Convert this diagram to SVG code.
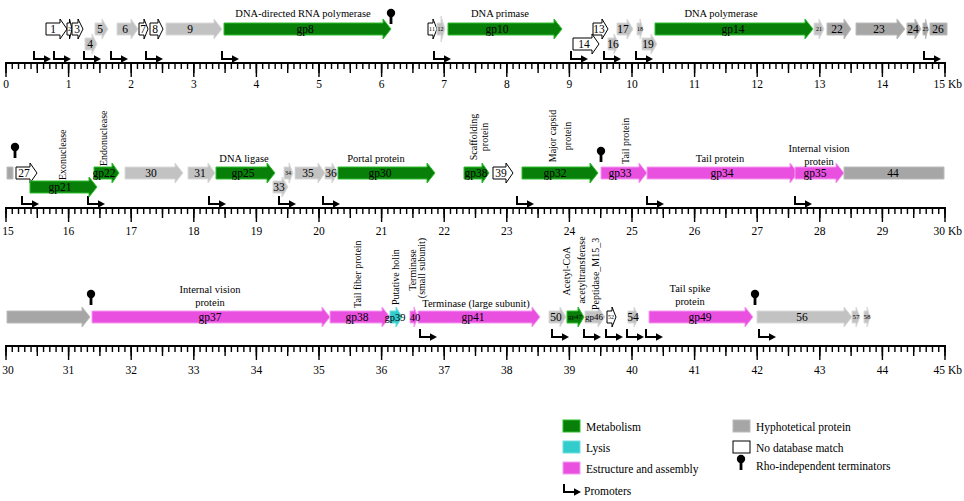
<svg xmlns="http://www.w3.org/2000/svg" xmlns:xlink="http://www.w3.org/1999/xlink" width="964" height="501" viewBox="0 0 964 501">
<style>
text{font-family:"Liberation Serif","Times New Roman",serif;fill:#000}
.lb{font-size:10.5px;text-anchor:middle}
.gl{font-size:11.5px;text-anchor:middle;dominant-baseline:central}
.sm{font-size:6px;text-anchor:middle;dominant-baseline:central}
.ax{font-size:11.5px;text-anchor:middle}
.kb{font-size:11.5px;text-anchor:end}
.rot{font-size:10px}
.lg{font-size:11.5px}
.g{fill:#087f08;stroke:#2fbf2f;stroke-width:1}
.m{fill:#e950e0;stroke:#f59cf0;stroke-width:1}
.c{fill:#33cccc;stroke:#70e0e0;stroke-width:1}
.h{fill:#c2c2c2;stroke:#dadada;stroke-width:1}
.d{fill:#a6a6a6;stroke:#bcbcbc;stroke-width:1}
.w{fill:#fff;stroke:#000;stroke-width:1}
.axis{stroke:#000;stroke-width:2}
.t1{stroke:#000;stroke-width:6;stroke-dasharray:1.4 4.86;fill:none}
.t5{stroke:#000;stroke-width:10;stroke-dasharray:1.4 29.9;fill:none}
.t10{stroke:#000;stroke-width:14;stroke-dasharray:1.4 61.2;fill:none}
</style>
<defs>
<g id="prom"><path d="M0,0V8H11" fill="none" stroke="#000" stroke-width="2"/><path d="M10,4.2L17,8L10,11.8Z" fill="#000"/></g>
<g id="term"><circle cx="0" cy="0" r="4.2" fill="#000"/><rect x="-1.4" y="0" width="2.8" height="11" fill="#000"/></g>
</defs>

<g id="axes">
<line class="axis" x1="5" y1="63" x2="946" y2="63"/>
<line class="t1" x1="5.3" y1="66" x2="945.7" y2="66"/>
<line class="t5" x1="5.3" y1="68" x2="945.7" y2="68"/>
<line class="t10" x1="5.3" y1="70" x2="945.7" y2="70"/>
<line class="axis" x1="5" y1="208" x2="946" y2="208"/>
<line class="t1" x1="5.3" y1="211" x2="945.7" y2="211"/>
<line class="t5" x1="5.3" y1="213" x2="945.7" y2="213"/>
<line class="t10" x1="5.3" y1="215" x2="945.7" y2="215"/>
<line class="axis" x1="5" y1="346" x2="946" y2="346"/>
<line class="t1" x1="5.3" y1="349" x2="945.7" y2="349"/>
<line class="t5" x1="5.3" y1="351" x2="945.7" y2="351"/>
<line class="t10" x1="5.3" y1="353" x2="945.7" y2="353"/>
<g class="ax">
<text x="6" y="88">0</text><text x="68.6" y="88">1</text><text x="131.2" y="88">2</text><text x="193.8" y="88">3</text><text x="256.4" y="88">4</text><text x="319" y="88">5</text><text x="381.6" y="88">6</text><text x="444.2" y="88">7</text><text x="506.8" y="88">8</text><text x="569.4" y="88">9</text><text x="632" y="88">10</text><text x="694.6" y="88">11</text><text x="757.2" y="88">12</text><text x="819.8" y="88">13</text><text x="882.4" y="88">14</text>
<text x="8" y="235">15</text><text x="68.6" y="235">16</text><text x="131.2" y="235">17</text><text x="193.8" y="235">18</text><text x="256.4" y="235">19</text><text x="319" y="235">20</text><text x="381.6" y="235">21</text><text x="444.2" y="235">22</text><text x="506.8" y="235">23</text><text x="569.4" y="235">24</text><text x="632" y="235">25</text><text x="694.6" y="235">26</text><text x="757.2" y="235">27</text><text x="819.8" y="235">28</text><text x="882.4" y="235">29</text>
<text x="8" y="374">30</text><text x="68.6" y="374">31</text><text x="131.2" y="374">32</text><text x="193.8" y="374">33</text><text x="256.4" y="374">34</text><text x="319" y="374">35</text><text x="381.6" y="374">36</text><text x="444.2" y="374">37</text><text x="506.8" y="374">38</text><text x="569.4" y="374">39</text><text x="632" y="374">40</text><text x="694.6" y="374">41</text><text x="757.2" y="374">42</text><text x="819.8" y="374">43</text><text x="882.4" y="374">44</text>
</g>
<text class="kb" x="962" y="88">15 Kb</text>
<text class="kb" x="962" y="235">30 Kb</text>
<text class="kb" x="962" y="374">45 Kb</text>
</g>

<g id="connectors"></g>

<g id="promoters">
<use xlink:href="#prom" x="34" y="51"/><use xlink:href="#prom" x="54" y="51"/><use xlink:href="#prom" x="84" y="51"/><use xlink:href="#prom" x="111" y="51"/><use xlink:href="#prom" x="146" y="51"/><use xlink:href="#prom" x="222" y="51"/><use xlink:href="#prom" x="434" y="51"/><use xlink:href="#prom" x="571" y="51"/><use xlink:href="#prom" x="604" y="51"/><use xlink:href="#prom" x="636" y="51"/><use xlink:href="#prom" x="924" y="51"/>
<use xlink:href="#prom" x="22" y="196"/><use xlink:href="#prom" x="88" y="196"/><use xlink:href="#prom" x="209" y="196"/><use xlink:href="#prom" x="279" y="196"/><use xlink:href="#prom" x="323" y="196"/><use xlink:href="#prom" x="517" y="196"/><use xlink:href="#prom" x="647" y="196"/><use xlink:href="#prom" x="795" y="196"/>
<use xlink:href="#prom" x="420" y="329"/><use xlink:href="#prom" x="552" y="329"/><use xlink:href="#prom" x="584" y="329"/><use xlink:href="#prom" x="606" y="329"/><use xlink:href="#prom" x="627" y="329"/><use xlink:href="#prom" x="646" y="329"/><use xlink:href="#prom" x="759" y="329"/>
</g>
<g id="terminators">
<use xlink:href="#term" x="391" y="13"/>
<use xlink:href="#term" x="15" y="147"/>
<use xlink:href="#term" x="601" y="151"/>
<use xlink:href="#term" x="91" y="294"/>
<use xlink:href="#term" x="755" y="294"/>
</g>

<!-- Row 1 -->
<g id="g1"><path class="w" d="M46,23H60V19L67,29L60,39V35H46Z"/><text class="gl" x="53" y="29">1</text></g>
<g id="g2"><path class="w" d="M67,23H69.5V19L72,29L69.5,39V35H67Z"/><text class="sm" x="69.5" y="29">2</text></g>
<g id="g3"><path class="w" d="M72,23H78V19L83,29L78,39V35H72Z"/><text class="gl" x="77" y="29">3</text></g>
<g id="g4"><path class="h" d="M85,38H92V34L97,44L92,54V50H85Z"/><text class="gl" x="90" y="44">4</text></g>
<g id="g5"><path class="h" d="M95,23H102V19L108,29L102,39V35H95Z"/><text class="gl" x="100" y="29">5</text></g>
<g id="g6"><path class="h" d="M117,23H131V19L138,29L131,39V35H117Z"/><text class="gl" x="125" y="29">6</text></g>
<g id="g7"><path class="w" d="M139,23H144V19L148,29L144,39V35H139Z"/><text class="gl" x="143" y="29">7</text></g>
<g id="g8n"><path class="w" d="M150,23H158V19L163,29L158,39V35H150Z"/><text class="gl" x="155" y="29">8</text></g>
<g id="g9"><path class="h" d="M166,23H214V19L222,29L214,39V35H166Z"/><text class="gl" x="190" y="29">9</text></g>
<g id="gp8"><path class="g" d="M224,23H383V19L391,29L383,39V35H224Z"/><text class="gl" x="305" y="29">gp8</text><text class="lb" x="303" y="17">DNA-directed RNA polymerase</text></g>
<g id="g11"><path class="w" d="M428,23H433V19L437,29L433,39V35H428Z"/><text class="sm" x="432" y="29">11</text></g>
<g id="g12"><path class="h" d="M437,23H441V16L445,29L441,42V35H437Z"/><text class="sm" x="440.5" y="29">12</text></g>
<g id="gp10"><path class="g" d="M448,23H554V19L562,29L554,39V35H448Z"/><text class="gl" x="497" y="29">gp10</text><text class="lb" x="500" y="17">DNA primase</text></g>
<g id="g14"><path class="w" d="M573,38H592V34L599,44L592,54V50H573Z"/><text class="gl" x="584" y="44">14</text></g>
<g id="g13"><path class="w" d="M593,23H602V19L608,29L602,39V35H593Z"/><text class="gl" x="599" y="29">13</text></g>
<g id="g16"><path class="h" d="M608,38H614V34L619,44L614,54V50H608Z"/><text class="gl" x="613" y="44">16</text></g>
<g id="g17"><path class="h" d="M617,23H627V19L633,29L627,39V35H617Z"/><text class="gl" x="623" y="29">17</text></g>
<g id="g18"><path class="h" d="M637,23H640V19L643,29L640,39V35H637Z"/><text class="sm" x="640" y="29">18</text></g>
<g id="g19"><path class="h" d="M642,38H651V34L657,44L651,54V50H642Z"/><text class="gl" x="648" y="44">19</text></g>
<g id="gp14"><path class="g" d="M655,23H805V19L813,29L805,39V35H655Z"/><text class="gl" x="733" y="29">gp14</text><text class="lb" x="721" y="17">DNA polymerase</text></g>
<g id="g21"><path class="h" d="M814,23H819V19L824,29L819,39V35H814Z"/><text class="sm" x="819" y="29">21</text></g>
<g id="g22"><path class="d" d="M827,23H844V19L851,29L844,39V35H827Z"/><text class="gl" x="837" y="29">22</text></g>
<g id="g23"><path class="d" d="M856,23H897V19L905,29L897,39V35H856Z"/><text class="gl" x="879" y="29">23</text></g>
<g id="g24"><path class="d" d="M907,23H915V19L921,29L915,39V35H907Z"/><text class="gl" x="913" y="29">24</text></g>
<g id="g25"><path class="d" d="M923,23H925.5V19L928,29L925.5,39V35H923Z"/><text class="sm" x="925.5" y="29">25</text></g>
<g id="g26"><path class="d" d="M930,23H947V35H930Z"/><text class="gl" x="938" y="29">26</text><path class="d" d="M7,167H13V179H7Z"/></g>

<!-- Row 2 -->
<g id="g27"><path class="w" d="M16,167H30V163L37,173L30,183V179H16Z"/><text class="gl" x="24" y="173">27</text></g>
<g id="gp21"><path class="g" d="M30,181H89V177L97,187L89,197V193H30Z"/><text class="gl" x="60" y="187">gp21</text><text class="rot" transform="translate(66,180) rotate(-90)">Exonuclease</text></g>
<g id="gp22"><path class="g" d="M94,167H112V163L119,173L112,183V179H94Z"/><text class="gl" x="104" y="173">gp22</text><text class="rot" transform="translate(107,166) rotate(-90)">Endonuclease</text></g>
<g id="g30"><path class="h" d="M125,167H175V163L183,173L175,183V179H125Z"/><text class="gl" x="151" y="173">30</text></g>
<g id="g31"><path class="h" d="M188,167H208V163L215,173L208,183V179H188Z"/><text class="gl" x="200" y="173">31</text></g>
<g id="gp25"><path class="g" d="M216,167H267V163L275,173L267,183V179H216Z"/><text class="gl" x="243" y="173">gp25</text><text class="lb" x="244" y="162">DNA ligase</text></g>
<g id="g33"><path class="h" d="M273,181H282V177L288,187L282,197V193H273Z"/><text class="gl" x="279" y="187">33</text></g>
<g id="g34"><path class="h" d="M284,167H289V163L293,173L289,183V179H284Z"/><text class="sm" x="288" y="173">34</text></g>
<g id="g35"><path class="h" d="M295,167H318V163L325,173L318,183V179H295Z"/><text class="gl" x="308" y="173">35</text></g>
<g id="g36"><path class="h" d="M325,167H332V163L338,173L332,183V179H325Z"/><text class="gl" x="331" y="173">36</text></g>
<g id="gp30"><path class="g" d="M338,167H427V163L435,173L427,183V179H338Z"/><text class="gl" x="380" y="173">gp30</text><text class="lb" x="376" y="162">Portal protein</text></g>
<g id="gp38a"><path class="g" d="M464,167H482V163L489,173L482,183V179H464Z"/><text class="gl" x="476" y="173">gp38</text><text class="rot" text-anchor="middle" transform="translate(477,137) rotate(-90)">Scaffolding</text><text class="rot" text-anchor="middle" transform="translate(488,137) rotate(-90)">protein</text></g>
<g id="g39"><path class="w" d="M493,167H506V163L513,173L506,183V179H493Z"/><text class="gl" x="501" y="173">39</text></g>
<g id="gp32"><path class="g" d="M522,167H590V163L598,173L590,183V179H522Z"/><text class="gl" x="555" y="173">gp32</text><text class="rot" text-anchor="middle" transform="translate(556,136) rotate(-90)">Major capsid</text><text class="rot" text-anchor="middle" transform="translate(571,136) rotate(-90)">protein</text></g>
<g id="gp33"><path class="m" d="M601,167H639V163L647,173L639,183V179H601Z"/><text class="gl" x="620" y="173">gp33</text><text class="rot" transform="translate(629,164) rotate(-90)">Tail protein</text></g>
<g id="gp34"><path class="m" d="M647,167H790V163L798,173L790,183V179H647Z"/><text class="gl" x="722" y="173">gp34</text><text class="lb" x="720" y="162">Tail protein</text></g>
<g id="gp35"><path class="m" d="M795,167H836V163L844,173L836,183V179H795Z"/><text class="gl" x="815" y="173">gp35</text><text class="lb" x="819" y="152">Internal vision</text><text class="lb" x="819" y="165">protein</text></g>
<g id="g44"><path class="d" d="M844,167H944V179H844Z"/><text class="gl" x="893" y="173">44</text></g>

<!-- Row 3 -->
<g id="g44b"><path class="d" d="M7,311H82V307L90,317L82,327V323H7Z"/></g>
<g id="gp37"><path class="m" d="M92,311H322V307L330,317L322,327V323H92Z"/><text class="gl" x="210" y="317">gp37</text><text class="lb" x="210" y="293">Internal vision</text><text class="lb" x="210" y="306">protein</text></g>
<g id="gp38"><path class="m" d="M330,311H382V307L390,317L382,327V323H330Z"/><text class="gl" x="357" y="317">gp38</text><text class="rot" transform="translate(361,308) rotate(-90)">Tail fiber protein</text></g>
<g id="gp39"><path class="c" d="M390,311H396V307L402,317L396,327V323H390Z"/><text class="gl" x="395" y="317" style="font-size:10.5px">gp39</text><text class="rot" transform="translate(399,305) rotate(-90)">Putative holin</text></g>
<g id="gp41"><path class="m" d="M418,311H532V307L540,317L532,327V323H418Z"/><text class="gl" x="473" y="317">gp41</text><text class="lb" x="476" y="307">Terminase (large subunit)</text></g>
<g id="g40"><path class="m" d="M410,311H414V307L418,317L414,327V323H410Z"/><text class="gl" x="415" y="317" style="font-size:10.5px">40</text><text class="rot" text-anchor="middle" transform="translate(416,270) rotate(-90)">Terminase</text><text class="rot" text-anchor="middle" transform="translate(425,268) rotate(-90)">(small subunit)</text></g>
<g id="g50"><path class="h" d="M549,311H560V307L566,317L560,327V323H549Z"/><text class="gl" x="556" y="317">50</text></g>
<g id="gp47"><path class="g" d="M567,311H578V307L584,317L578,327V323H567Z"/><text class="gl" x="575" y="317" style="font-size:7px">gp47</text><text class="rot" text-anchor="middle" transform="translate(570,271) rotate(-90)">Acetyl-CoA</text><text class="rot" text-anchor="middle" transform="translate(585,270) rotate(-90)">acetyltransferase</text></g>
<g id="gp46"><path class="h" d="M585,311H598V307L605,317L598,327V323H585Z"/><text class="gl" x="594" y="317" style="font-size:9px">gp46</text><text class="rot" transform="translate(599,310) rotate(-90)">Peptidase_M15_3</text></g>
<g id="g52"><path class="w" d="M607,311H612V307L616,317L612,327V323H607Z"/><text class="sm" x="611" y="317">52</text></g>
<g id="g54"><path class="h" d="M628,311H634V307L639,317L634,327V323H628Z"/><text class="gl" x="633" y="317">54</text></g>
<g id="gp49"><path class="m" d="M649,311H745V307L753,317L745,327V323H649Z"/><text class="gl" x="700" y="317">gp49</text><text class="lb" x="690" y="292">Tail spike</text><text class="lb" x="690" y="305">protein</text></g>
<g id="g56"><path class="h" d="M757,311H844V307L852,317L844,327V323H757Z"/><text class="gl" x="802" y="317">56</text></g>
<g id="g57"><path class="h" d="M852,311H856V307L860,317L856,327V323H852Z"/><text class="sm" x="856" y="317" style="font-size:7px">57</text></g>
<g id="g58"><path class="h" d="M864,311H867V307L870,317L867,327V323H864Z"/><text class="sm" x="867" y="317" style="font-size:7px">58</text></g>

<!-- Legend -->
<g id="legend">
<rect class="g" x="563" y="420" width="17" height="12"/><text class="lg" x="586" y="431">Metabolism</text>
<rect class="c" x="563" y="441" width="17" height="12"/><text class="lg" x="586" y="452">Lysis</text>
<rect class="m" x="563" y="462" width="17" height="12"/><text class="lg" x="586" y="473">Estructure and assembly</text>
<use xlink:href="#prom" x="564" y="484"/><text class="lg" x="584" y="495">Promoters</text>
<rect class="d" x="733" y="420" width="17" height="12"/><text class="lg" x="756" y="431">Hyphotetical protein</text>
<rect class="w" x="733" y="441" width="17" height="12"/><text class="lg" x="756" y="452">No database match</text>
<use xlink:href="#term" x="741" y="459"/><text class="lg" x="756" y="470">Rho-independent terminators</text>
</g>
</svg>
